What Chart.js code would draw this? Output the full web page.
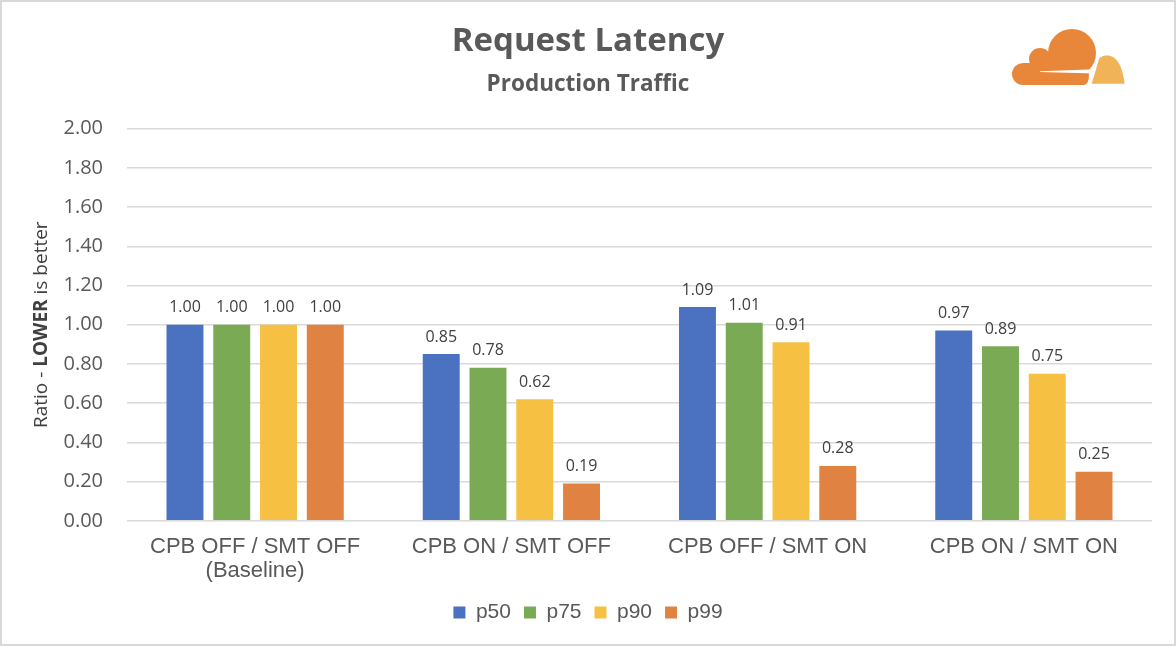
<!DOCTYPE html>
<html>
<head>
<meta charset="utf-8">
<script src="https://cdn.jsdelivr.net/npm/chart.js@4/dist/chart.umd.min.js"></script>
<style>
  html, body { margin: 0; padding: 0; background: #fff; }
  #wrap { position: relative; width: 1176px; height: 646px; }
  #frame { position: absolute; left: 0; top: 0; width: 1172px; height: 642px; border: 2px solid #d9d9d9; pointer-events: none; }
  #logo { position: absolute; left: 1000px; top: 20px; }
</style>
</head>
<body>
<div id="wrap">
  <canvas id="latency" width="1176" height="646"></canvas>
  <svg id="logo" width="140" height="80" viewBox="1000 20 140 80">
    <defs><clipPath id="cut"><rect x="1000" y="20" width="140" height="65"/></clipPath></defs>
    <g fill="#e8873a" clip-path="url(#cut)">
      <circle cx="1072" cy="53" r="24"/>
      <circle cx="1040" cy="59" r="11"/>
      <circle cx="1023" cy="74" r="11"/>
      <path d="M1023 63 L1084 63 Q1089 63 1089 74 Q1089 85 1084 85 L1023 85 Z"/>
    </g>
    <path d="M1040 71.2 L1095 69.3 L1095 73.6 L1040 72 Z" fill="#fff"/>
    <path d="M1090 85 L1094 72 L1098 58 Q1101 54 1108 54 Q1123 56 1126 85 Z" fill="#f0b357" stroke="#fff" stroke-width="2.5"/>
  </svg>
  <div id="frame"></div>
</div>
<script>
let categories = [['CPB OFF / SMT OFF', '(Baseline)'], 'CPB ON / SMT OFF', 'CPB OFF / SMT ON', 'CPB ON / SMT ON'];
let p50 = [1.00, 0.85, 1.09, 0.97];
let p75 = [1.00, 0.78, 1.01, 0.89];
let p90 = [1.00, 0.62, 0.91, 0.75];
let p99 = [1.00, 0.19, 0.28, 0.25];
let seriesNames = ['p50', 'p75', 'p90', 'p99'];
let colors = ['#4a72c1', '#7aab54', '#f6c142', '#e08241'];

let textGray = '#595959';

// value labels above each bar
let barLabels = {
    id: 'barLabels',
    afterDatasetsDraw(chart) {
        let ctx = chart.ctx;
        ctx.save();
        ctx.font = '16px "Open Sans"';
        ctx.fillStyle = '#404040';
        ctx.textAlign = 'center';
        ctx.textBaseline = 'bottom';
        chart.data.datasets.forEach((ds, i) => {
            chart.getDatasetMeta(i).data.forEach((bar, j) => {
                ctx.fillText(ds.data[j].toFixed(2), bar.x, bar.y - 9);
            });
        });
        ctx.restore();
    }
};

// y axis title with bold "LOWER"
let yTitle = {
    id: 'yTitle',
    afterDraw(chart) {
        let ctx = chart.ctx;
        let area = chart.chartArea;
        let parts = [['Ratio - ', '19px "Open Sans"'], ['LOWER', 'bold 19px "Open Sans"'], [' is better', '19px "Open Sans"']];
        ctx.save();
        let total = 0;
        parts.forEach(p => { ctx.font = p[1]; total += ctx.measureText(p[0]).width; });
        ctx.translate(42, (area.top + area.bottom) / 2);
        ctx.rotate(-Math.PI / 2);
        ctx.fillStyle = '#404040';
        ctx.textBaseline = 'middle';
        ctx.textAlign = 'left';
        let x = -total / 2;
        parts.forEach(p => {
            ctx.font = p[1];
            ctx.fillText(p[0], x, 0);
            x += ctx.measureText(p[0]).width;
        });
        ctx.restore();
    }
};

let chart = new Chart(document.getElementById('latency').getContext('2d'), {
    type: 'bar',
    data: {
        labels: categories,
        datasets: [p50, p75, p90, p99].map((d, i) => ({
            label: seriesNames[i],
            data: d,
            backgroundColor: colors[i],
            categoryPercentage: 0.73,
            barPercentage: 0.79
        }))
    },
    options: {
        responsive: false,
        animation: false,
        layout: { padding: { left: 0, right: 0, top: 0, bottom: 13 } },
        plugins: {
            title: {
                display: true,
                text: 'Request Latency',
                color: textGray,
                font: { family: 'Open Sans', size: 33, weight: 'bold' },
                padding: { top: 22, bottom: 0 }
            },
            subtitle: {
                display: true,
                text: 'Production Traffic',
                color: textGray,
                font: { family: 'Open Sans', size: 22.5, weight: 'bold' },
                padding: { top: 9, bottom: 31 }
            },
            legend: {
                position: 'bottom',
                labels: {
                    boxWidth: 12,
                    boxHeight: 12,
                    padding: 13,
                    color: textGray,
                    font: { family: 'Liberation Sans', size: 21 }
                }
            },
            tooltip: { enabled: false }
        },
        scales: {
            x: {
                grid: { display: false },
                border: { display: false },
                ticks: {
                    color: textGray,
                    padding: 7,
                    font: { family: 'Liberation Sans', size: 22, lineHeight: 1.05 }
                }
            },
            y: {
                min: 0,
                max: 2,
                afterFit(scale) { scale.width = 127; },
                border: { display: false },
                grid: { color: '#d9d9d9', lineWidth: 1.5, drawTicks: false },
                ticks: {
                    stepSize: 0.2,
                    padding: 24,
                    color: textGray,
                    font: { family: 'Open Sans', size: 20 },
                    callback: v => v.toFixed(2)
                }
            },
            // empty right margin so titles and legend centre on the full width
            gap: {
                position: 'right',
                min: 0,
                max: 1,
                afterFit(scale) { scale.width = 24; },
                border: { display: false },
                grid: { display: false },
                ticks: { display: false }
            }
        }
    },
    plugins: [barLabels, yTitle]
});
</script>
</body>
</html>
